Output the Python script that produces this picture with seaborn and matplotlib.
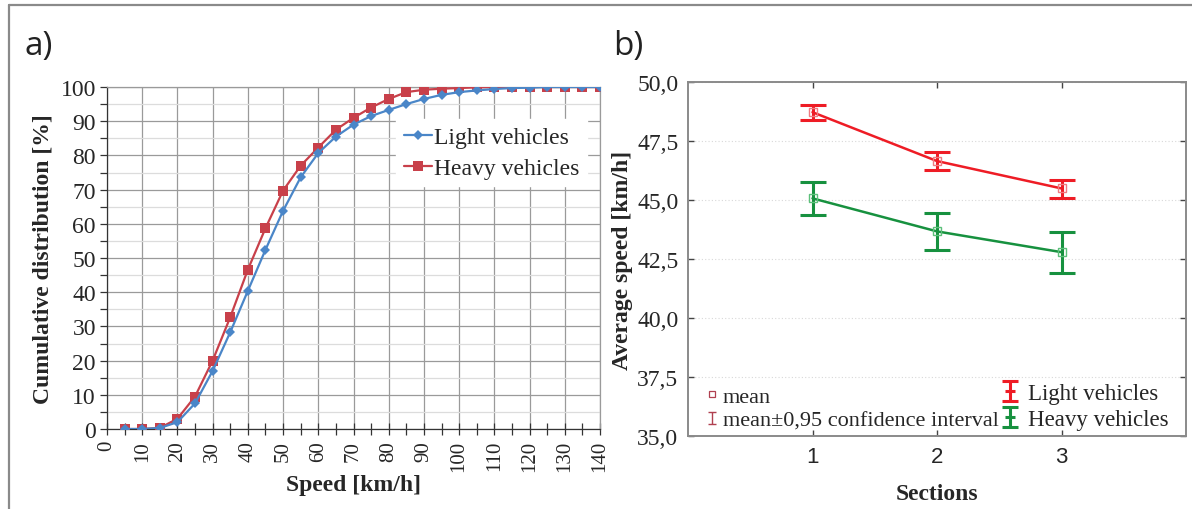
import numpy as np
import pandas as pd
import matplotlib
matplotlib.use("Agg")
import matplotlib.pyplot as plt
import seaborn as sns
from matplotlib.lines import Line2D
from matplotlib.path import Path

# ---------------- data ----------------
speeds = list(range(5, 145, 5))
light_cum = [0, 0, 0.3, 2, 7.5, 17, 28.3, 40.4, 52.4, 63.8, 73.6, 80.7, 85.5, 89, 91.5,
             93.3, 95, 96.5, 97.7, 98.5, 99, 99.4, 99.7, 99.8, 100, 100, 100, 100]
heavy_cum = [0, 0, 0.3, 3, 9.5, 20, 32.7, 46.6, 58.7, 69.7, 77, 82.3, 87.5, 91, 94,
             96.5, 98.5, 99.2, 99.5, 99.7, 99.9, 100, 100, 100, 100, 100, 100, 100]
series_names = ["Light vehicles", "Heavy vehicles"]
x_ticks_left = list(range(0, 141, 10))
y_ticks_left = list(range(0, 101, 10))

sections = [1, 2, 3]
light_mean = [48.72, 46.65, 45.49]
light_low = [48.37, 46.27, 45.09]
light_high = [49.04, 47.03, 45.85]
heavy_mean = [45.07, 43.67, 42.79]
heavy_low = [44.35, 42.89, 41.89]
heavy_high = [45.77, 44.46, 43.63]
y_ticks_right = [35.0, 37.5, 40.0, 42.5, 45.0, 47.5, 50.0]
y_ticklabels_right = ["35,0", "37,5", "40,0", "42,5", "45,0", "47,5", "50,0"]
x_ticklabels_right = ["1", "2", "3"]
legend_stat_labels = ["mean", "mean\u00b10,95 confidence interval"]

# ---------------- style ----------------
sns.set_theme(style="white")
plt.rcParams["font.family"] = ["Liberation Serif", "DejaVu Serif"]
plt.rcParams["mathtext.fontset"] = "stix"

W, H = 1192, 510
fig = plt.figure(figsize=(W / 100, H / 100), dpi=100)
fig.patch.set_facecolor("white")


def frac(x0, y0, x1, y1):
    return [x0 / W, 1 - y1 / H, (x1 - x0) / W, (y1 - y0) / H]


# figure frame lines (top and left)
fig.add_artist(Line2D([9 / W, 1.0], [1 - 6 / H, 1 - 6 / H], color="#8a8a8a", lw=1.6,
                      transform=fig.transFigure))
fig.add_artist(Line2D([9 / W, 9 / W], [0, 1 - 6 / H], color="#8a8a8a", lw=1.6,
                      transform=fig.transFigure))

# ---------------- left panel ----------------
axL = fig.add_axes(frac(107, 88, 600, 430))
blue = "#4a86c8"
red = "#c8404a"

df_l = pd.DataFrame({"speed": speeds, "value": light_cum})
df_h = pd.DataFrame({"speed": speeds, "value": heavy_cum})
sns.lineplot(data=df_l, x="speed", y="value", ax=axL, color=blue, lw=1.6,
             marker="D", markersize=5, markeredgewidth=0, label=series_names[0], zorder=4)
sns.lineplot(data=df_h, x="speed", y="value", ax=axL, color=red, lw=1.6,
             marker="s", markersize=7, markeredgewidth=0, label=series_names[1], zorder=3)

axL.set_xlim(0, 140)
axL.set_ylim(0, 100)
axL.set_xticks(x_ticks_left)
axL.set_xticks(list(range(5, 141, 10)), minor=True)
axL.set_yticks(y_ticks_left)
axL.set_yticks(list(range(5, 101, 10)), minor=True)
axL.set_xticklabels([str(v) for v in x_ticks_left], rotation=90, va="top")
axL.grid(True, which="major", axis="both", color="#9a9a9a", lw=0.9)
axL.grid(True, which="minor", axis="y", color="#dcdcdc", lw=0.9)
axL.set_axisbelow(True)
axL.tick_params(axis="x", which="both", direction="inout", length=8, width=0.9,
                color="#333333", bottom=True, labelsize=15, pad=4)
axL.tick_params(axis="y", which="both", direction="out", length=5, width=0.9,
                color="#333333", left=True, labelsize=17, pad=3)
for s in ["left", "bottom"]:
    axL.spines[s].set_color("#333333")
    axL.spines[s].set_linewidth(0.9)
for s in ["top", "right"]:
    axL.spines[s].set_color("#9a9a9a")
    axL.spines[s].set_linewidth(0.9)
axL.set_xlabel("Speed [km/h]", fontsize=17, fontweight="bold", labelpad=2)
axL.set_ylabel("Cumulative distribution [%]", fontsize=17, fontweight="bold", labelpad=5)
legL = axL.legend(loc="upper right", bbox_to_anchor=(0.997, 0.94), fontsize=17,
                  frameon=True, fancybox=False, edgecolor="white", facecolor="white",
                  framealpha=1, handlelength=1.2, handletextpad=0.1, labelspacing=0.4,
                  borderpad=0.3)

# ---------------- right panel ----------------
axR = fig.add_axes(frac(688, 83, 1186, 437))
rred = "#ee1c25"
rgreen = "#17913f"
rred_l = "#f07a80"
rgreen_l = "#5cc07a"

df_rl = pd.DataFrame({"section": sections, "mean": light_mean})
df_rh = pd.DataFrame({"section": sections, "mean": heavy_mean})
sns.lineplot(data=df_rl, x="section", y="mean", ax=axR, color=rred, lw=1.8, zorder=3)
sns.lineplot(data=df_rh, x="section", y="mean", ax=axR, color=rgreen, lw=1.8, zorder=3)

lm = np.array(light_mean)
hm = np.array(heavy_mean)
axR.errorbar(sections, lm, yerr=[lm - np.array(light_low), np.array(light_high) - lm],
             fmt="none", ecolor=rred, elinewidth=2.2, capsize=9.5, capthick=2.2, zorder=4)
axR.errorbar(sections, hm, yerr=[hm - np.array(heavy_low), np.array(heavy_high) - hm],
             fmt="none", ecolor=rgreen, elinewidth=2.2, capsize=9.5, capthick=2.2, zorder=4)
axR.plot(sections, lm, ls="none", marker="s", ms=5.5, mfc="none", mec=rred_l, mew=1, zorder=5)
axR.plot(sections, hm, ls="none", marker="s", ms=5.5, mfc="none", mec=rgreen_l, mew=1, zorder=5)

axR.set_xlim(0, 4)
axR.set_ylim(35, 50)
axR.set_xticks(sections)
axR.set_xticklabels(x_ticklabels_right, fontsize=16, family=["Liberation Sans", "DejaVu Sans"])
axR.set_yticks(y_ticks_right)
axR.set_yticklabels(y_ticklabels_right, fontsize=17)
axR.grid(True, axis="y", color="#d8d8d8", lw=0.8, ls=(0, (1, 2)))
axR.grid(False, axis="x")
axR.tick_params(axis="both", which="major", direction="in", length=4, width=1,
                color="#444444", top=True, right=True, bottom=True, left=True, pad=7)
for s in axR.spines.values():
    s.set_color("#8a8a8a")
    s.set_linewidth(1.4)
axR.set_xlabel("Sections", fontsize=17, fontweight="bold", labelpad=12)
axR.set_ylabel("Average speed [km/h]", fontsize=17, fontweight="bold", labelpad=3)

# I-beam marker for error-bar legend entries
ibeam = Path([(-0.42, 0.5), (0.42, 0.5), (0, 0.5), (0, -0.5), (-0.42, -0.5), (0.42, -0.5),
              (-0.25, 0.0), (0.25, 0.0)],
             [Path.MOVETO, Path.LINETO, Path.MOVETO, Path.LINETO, Path.MOVETO, Path.LINETO,
              Path.MOVETO, Path.LINETO])
small_ibeam = Path([(-0.3, 0.5), (0.3, 0.5), (0, 0.5), (0, -0.5), (-0.3, -0.5), (0.3, -0.5)],
                   [Path.MOVETO, Path.LINETO, Path.MOVETO, Path.LINETO, Path.MOVETO, Path.LINETO])

stat_handles = [
    Line2D([], [], ls="none", marker="s", ms=4, mfc="none", mec="#b04050", mew=0.9),
    Line2D([], [], ls="none", marker=small_ibeam, ms=9, mfc="none", mec="#b04050", mew=1.0),
]
leg1 = axR.legend(stat_handles, legend_stat_labels, loc="lower left",
                  bbox_to_anchor=(0.005, -0.025), fontsize=16, frameon=False,
                  handlelength=0.6, handletextpad=0.2, labelspacing=0.15, borderpad=0.15)
axR.add_artist(leg1)
series_handles = [
    Line2D([], [], ls="none", marker=ibeam, ms=14, mfc="none", mec=rred, mew=2.2),
    Line2D([], [], ls="none", marker=ibeam, ms=14, mfc="none", mec=rgreen, mew=2.2),
]
leg2 = axR.legend(series_handles, series_names, loc="lower right",
                  bbox_to_anchor=(0.995, -0.025), fontsize=16.5, frameon=False,
                  handlelength=1.0, handletextpad=0.3, labelspacing=0.22, borderpad=0.15)

# panel labels
fig.text(25 / W, 1 - 46 / H, "a)", fontsize=24, family=["Open Sans", "DejaVu Sans"],
         va="center", ha="left", color="#222222")
fig.text(613 / W, 1 - 46 / H, "b)", fontsize=24, family=["Open Sans", "DejaVu Sans"],
         va="center", ha="left", color="#222222")

fig.savefig("out.png", dpi=100, facecolor="white")
